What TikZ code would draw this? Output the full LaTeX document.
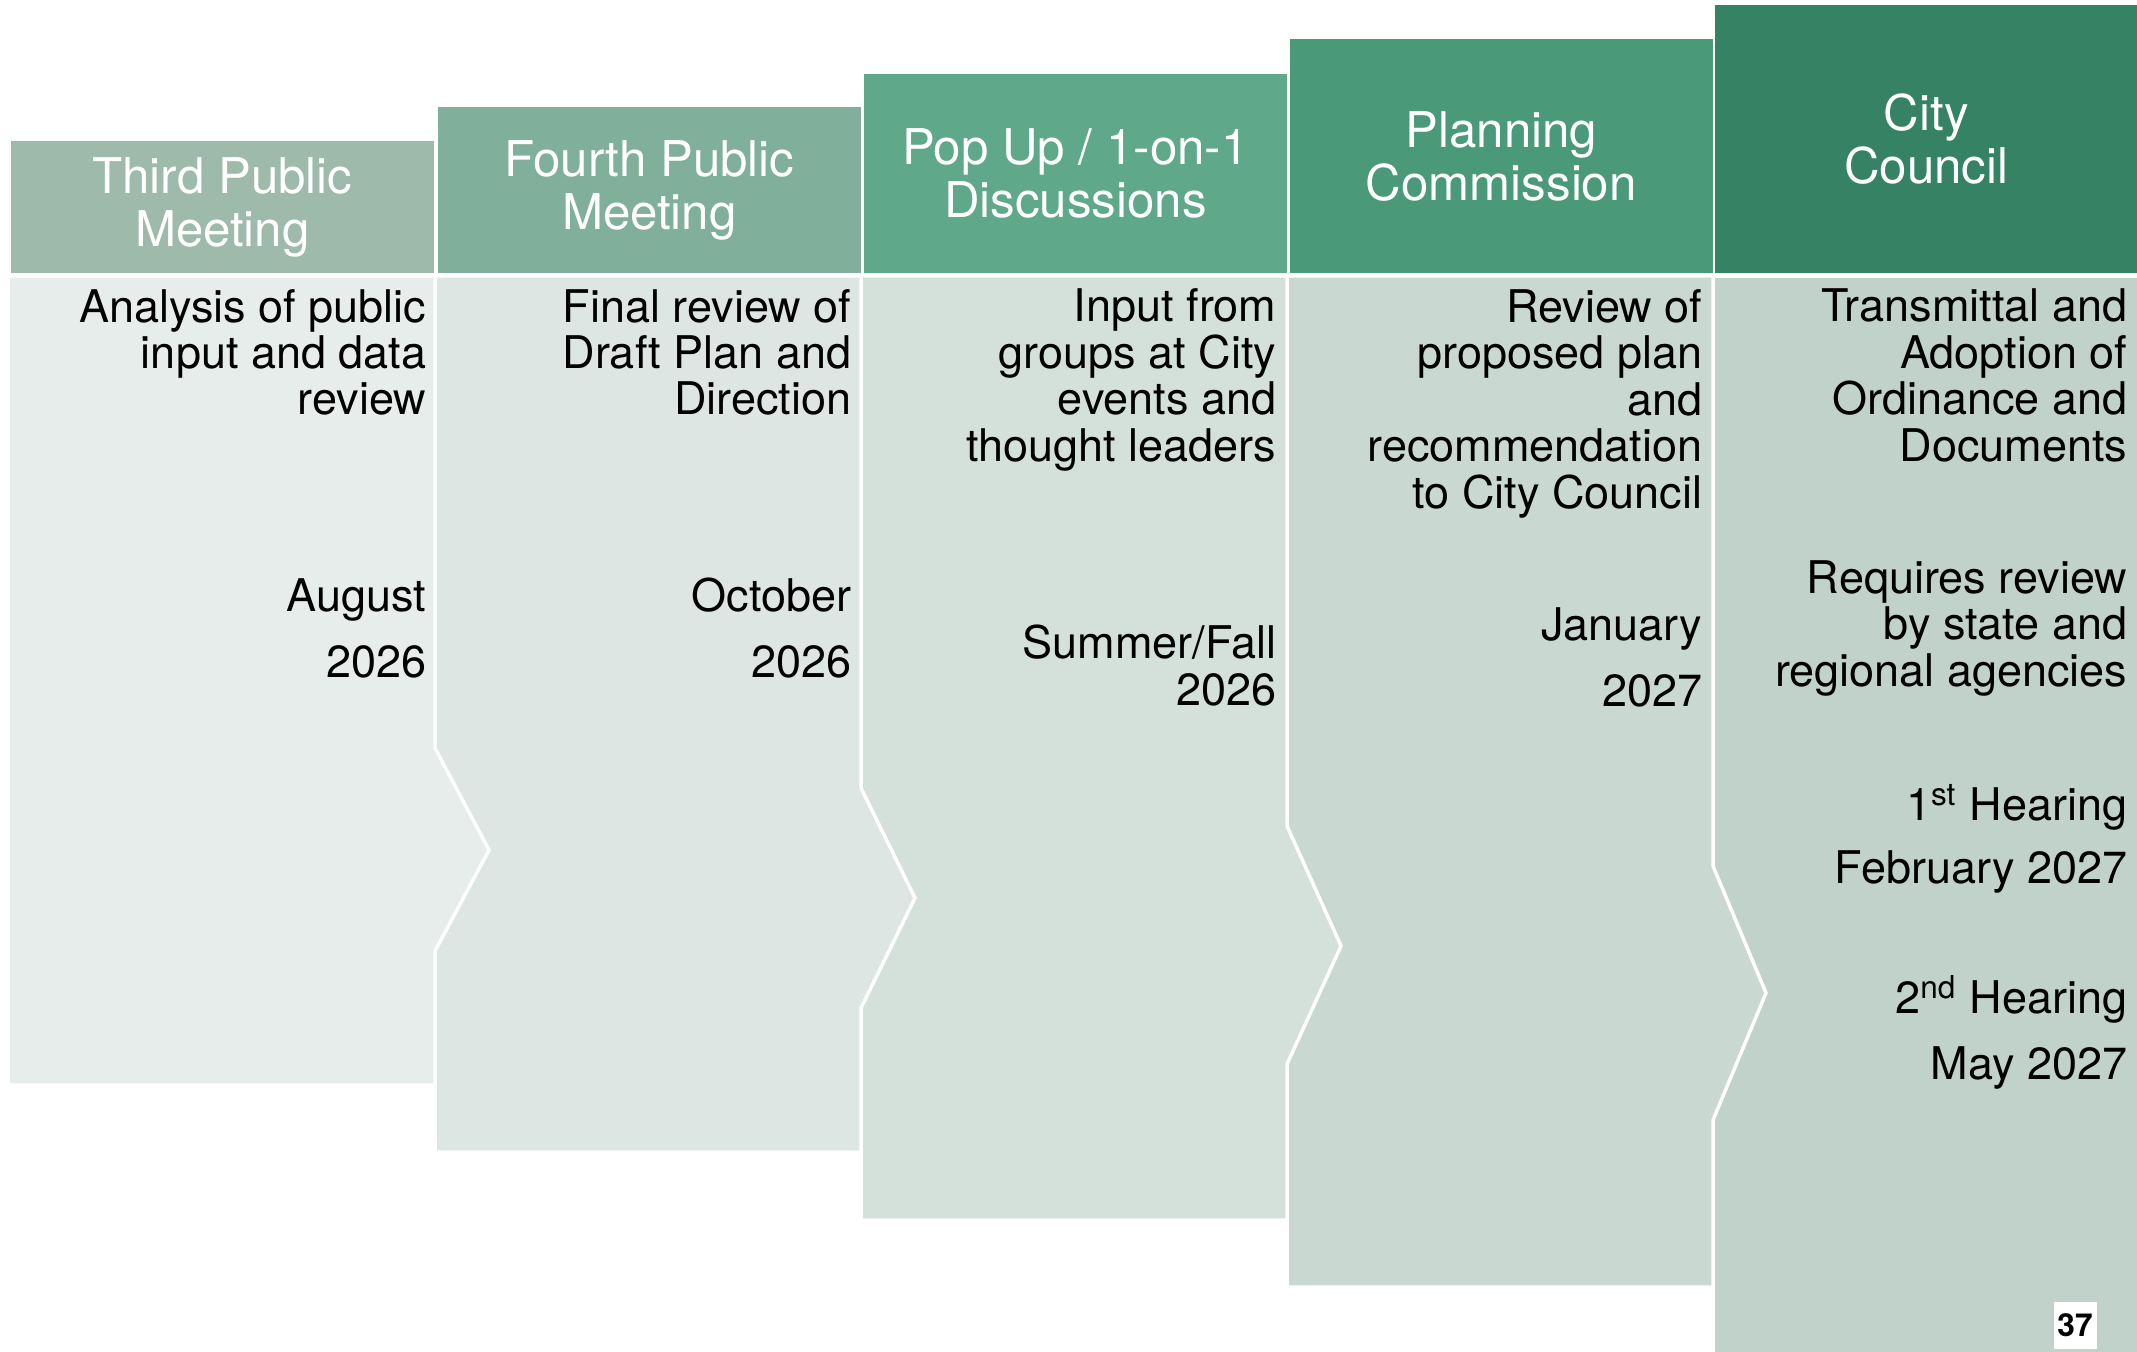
\documentclass[tikz,border=0pt]{standalone}
\usepackage{fontspec}
\setmainfont{TeX Gyre Heros}
\definecolor{headA}{HTML}{9DBAAB}
\definecolor{headB}{HTML}{80B09B}
\definecolor{headC}{HTML}{5FA889}
\definecolor{headD}{HTML}{4A9979}
\definecolor{headE}{HTML}{358264}
\definecolor{bodyA}{HTML}{E7EDEA}
\definecolor{bodyB}{HTML}{DDE6E2}
\definecolor{bodyC}{HTML}{D3E1DA}
\definecolor{bodyD}{HTML}{C9D9D1}
\definecolor{bodyE}{HTML}{C0D2C9}
\begin{document}
\begin{tikzpicture}[x=0.01cm,y=-0.01cm,
    hdr/.style={fill=#1,text=white,anchor=south west,minimum width=4.23cm,inner sep=0pt,align=center,font=\fontsize{14}{15.1}\selectfont},
    panel/.style={fill=#1,draw=white,line width=0.035cm},
    txt/.style={anchor=base east,align=right,inner sep=0pt,font=\fontsize{12.8}{13.2}\selectfont}]
    \useasboundingbox (0,0) rectangle (2137,1352);
    % bodies, last one first so each arrow lies over the next
    \draw[panel=bodyE] (1713,276) -- (2140,276) -- (2140,1360) -- (1713,1360) -- cycle;
    \draw[panel=bodyD] (1287,276) -- (1713,276) -- (1713,866) -- (1766,993) -- (1713,1120) -- (1713,1287) -- (1287,1287) -- cycle;
    \draw[panel=bodyC] (861,276) -- (1287,276) -- (1287,826) -- (1341,946) -- (1287,1064) -- (1287,1220) -- (861,1220) -- cycle;
    \draw[panel=bodyB] (435,276) -- (861,276) -- (861,788) -- (915,898) -- (861,1008) -- (861,1152) -- (435,1152) -- cycle;
    \draw[panel=bodyA] (8,276) -- (435,276) -- (435,748) -- (489,850) -- (435,951) -- (435,1085) -- (8,1085) -- cycle;
    % headers
    \node[hdr=headA,minimum height=1.32cm] (third) at (10,274) {Third Public\\Meeting};
    \node[hdr=headB,minimum height=1.66cm] (fourth) at (437,274) {Fourth Public\\Meeting};
    \node[hdr=headC,minimum height=1.99cm] (popup) at (863,274) {Pop Up / 1-on-1\\Discussions};
    \node[hdr=headD,minimum height=2.34cm] (planning) at (1289,274) {Planning\\Commission};
    \node[hdr=headE,minimum height=2.68cm] (council) at (1714,274) {City\\Council};
    % texts
    \node[txt] (thirdwhat) at (427,415) {Analysis of public\\input and data\\review};
    \node[txt] (thirdwhen) at (427,677) {August\\[5.3pt]2026};
    \node[txt] (fourthwhat) at (852,415) {Final review of\\Draft Plan and\\Direction};
    \node[txt] (fourthwhen) at (852,677) {October\\[5.3pt]2026};
    \node[txt] (popupwhat) at (1277,461) {Input from\\groups at City\\events and\\thought leaders};
    \node[txt] (popupwhen) at (1277,705) {Summer/Fall\\2026};
    \node[txt] (planningwhat) at (1703,508) {Review of\\proposed plan\\and\\recommendation\\to City Council};
    \node[txt] (planningwhen) at (1703,706) {January\\[5.3pt]2027};
    \node[txt] (councilwhat) at (2128,461) {Transmittal and\\Adoption of\\Ordinance and\\Documents};
    \node[txt] (councilreview) at (2128,686) {Requires review\\by state and\\regional agencies};
    \node[txt] (firsthearing) at (2128,883) {1\textsuperscript{st} Hearing\\[4.6pt]February 2027};
    \node[txt] (secondhearing) at (2128,1079) {2\textsuperscript{nd} Hearing\\[5.3pt]May 2027};
    \node[fill=white,inner sep=0pt,minimum width=0.43cm,minimum height=0.47cm,font=\fontsize{9}{9}\selectfont\bfseries] (pagenum) at (2075,1325) {37};
\end{tikzpicture}
\end{document}
